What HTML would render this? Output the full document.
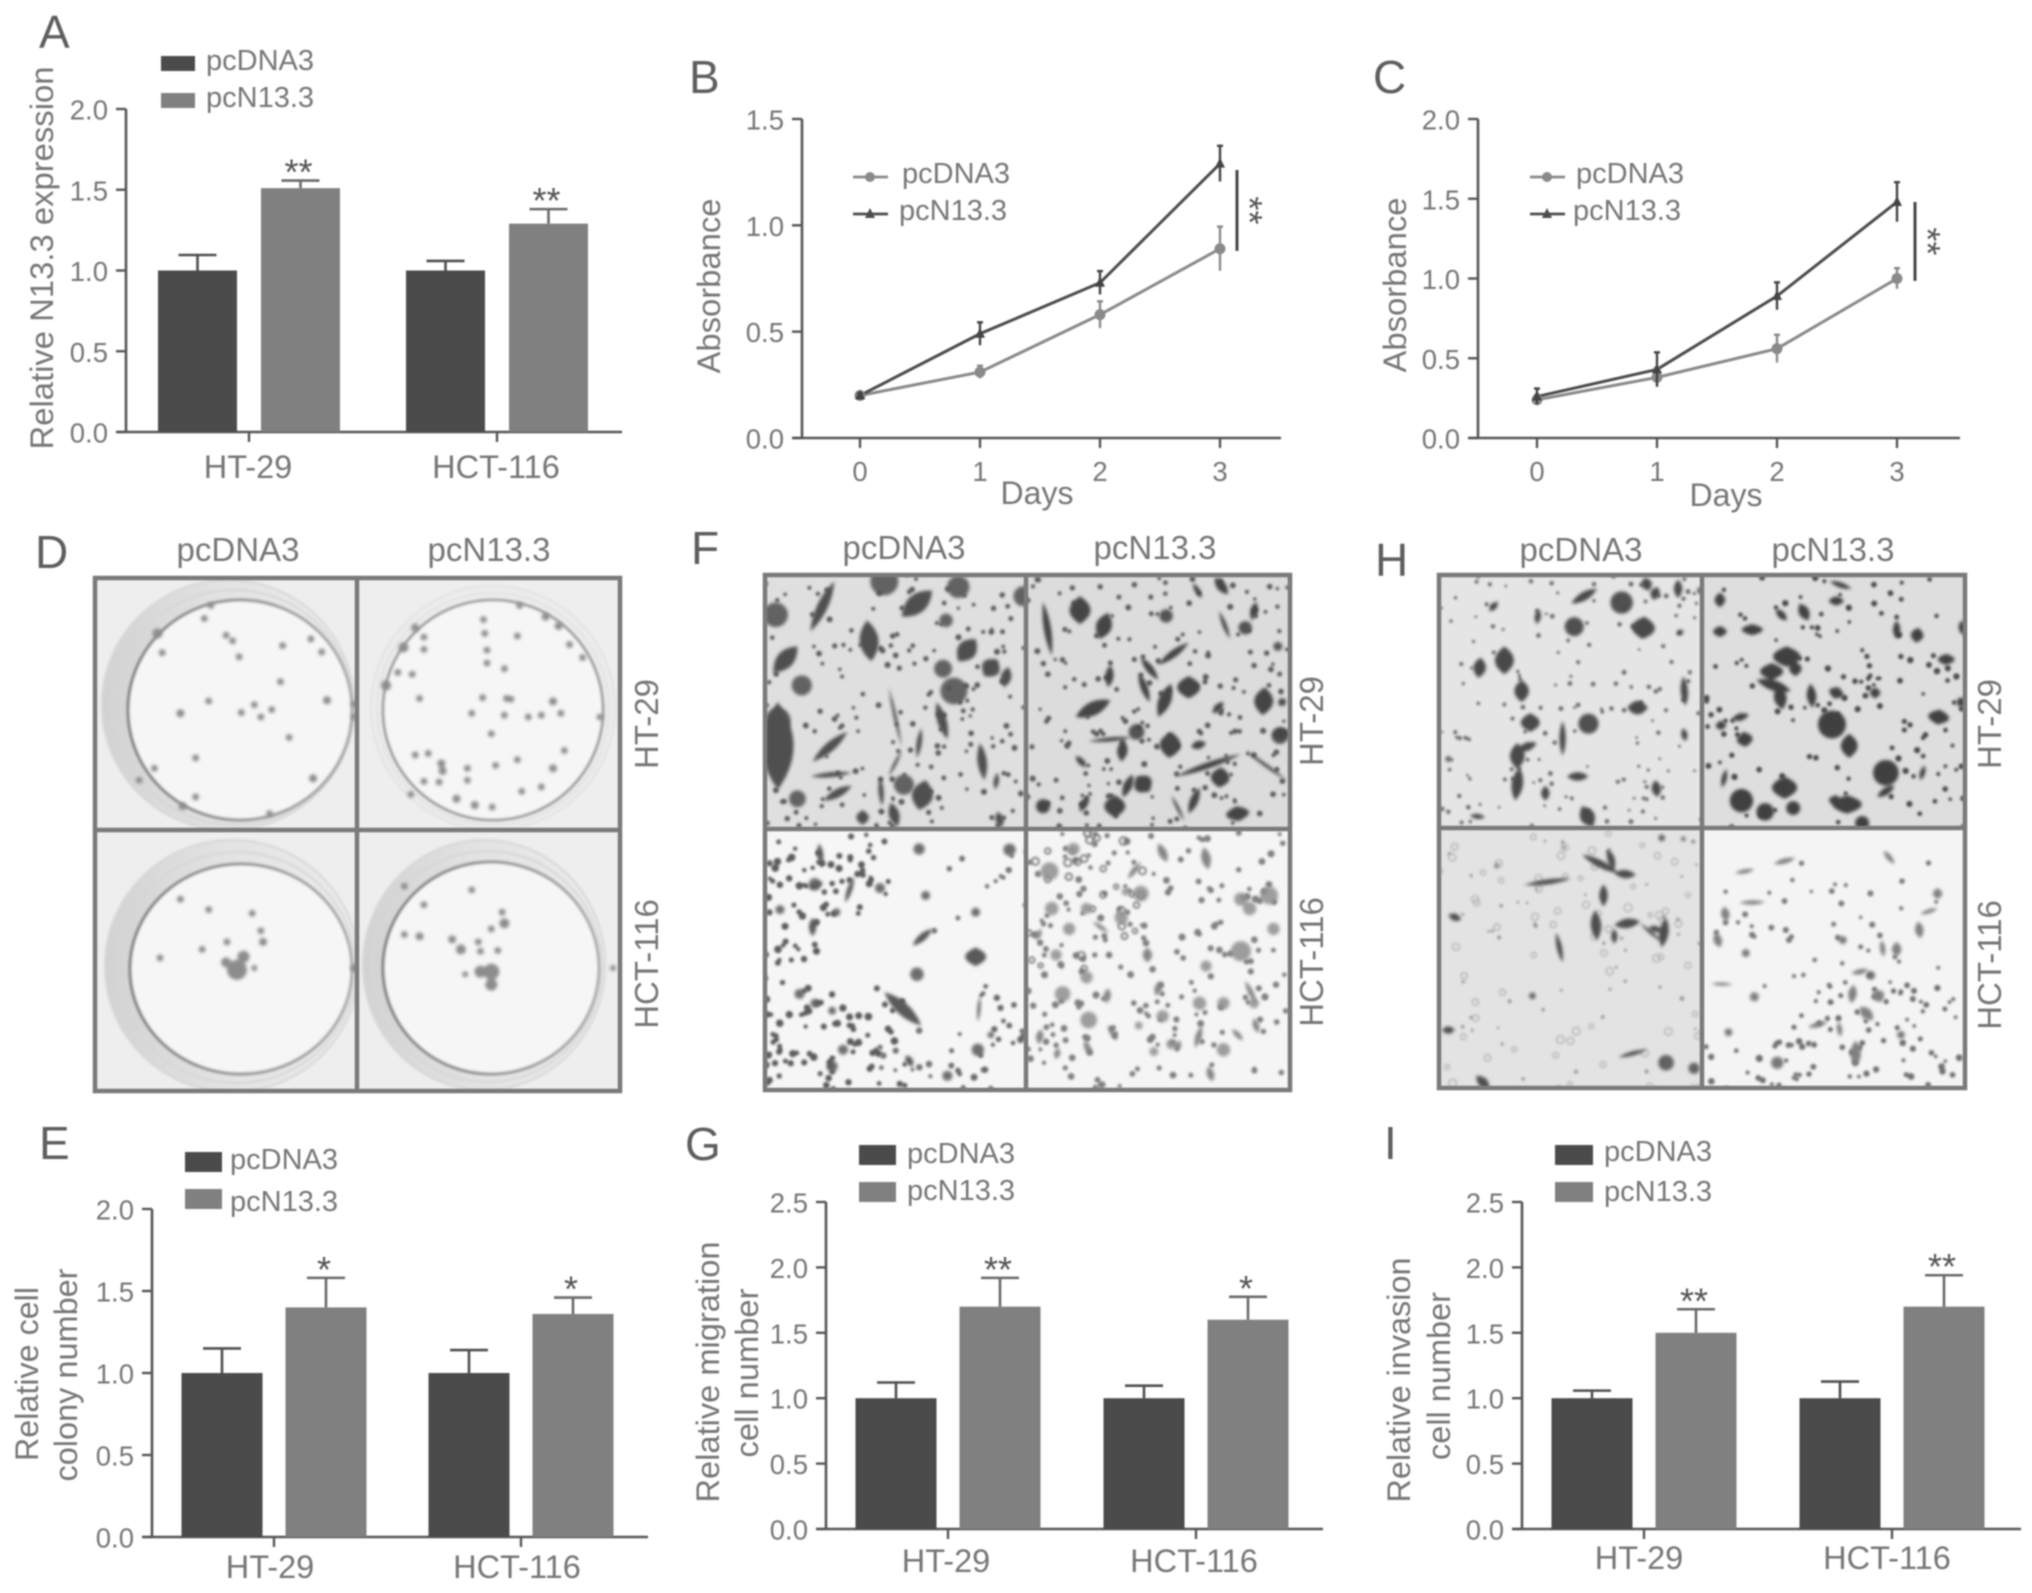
<!DOCTYPE html>
<html lang="en">
<head>
<meta charset="utf-8">
<title>N13.3 overexpression figure</title>
<style>
html,body{margin:0;padding:0;background:#fff;}
svg#fig{display:block;filter:blur(.8px);}
text{font-family:"Liberation Sans",sans-serif;fill:#767676;}
.letter{font-size:46px;fill:#5e5e5e;}
.imglabel{font-size:33px;text-anchor:middle;}
.frame{fill:none;stroke:#7a7a7a;stroke-width:4.5;}
</style>
</head>
<body>
<svg id="fig" xmlns="http://www.w3.org/2000/svg" width="2032" height="1593" viewBox="0 0 2032 1593">
<defs>
<filter id="soft" x="-5%" y="-5%" width="110%" height="110%"><feGaussianBlur stdDeviation="1.5"/></filter>
<filter id="soft2" x="-5%" y="-5%" width="110%" height="110%"><feGaussianBlur stdDeviation="1"/></filter>
<linearGradient id="rimGrad" x1="0" y1="0" x2="1" y2="0"><stop offset="0" stop-color="#d2d2d2"/><stop offset="0.45" stop-color="#e2e2e2"/><stop offset="1" stop-color="#ececec"/></linearGradient>
<linearGradient id="ringGrad" x1="0" y1="0" x2="1" y2="0"><stop offset="0" stop-color="#7c7c7c"/><stop offset="1" stop-color="#a8a8a8"/></linearGradient>
</defs>
<rect width="2032" height="1593" fill="#fff"/>

<text class="letter" x="39" y="48">A</text>
<text class="letter" x="689" y="93">B</text>
<text class="letter" x="1373" y="93">C</text>
<text class="letter" x="35" y="568">D</text>
<text class="letter" x="39" y="1159">E</text>
<text class="letter" x="691" y="564">F</text>
<text class="letter" x="685" y="1160">G</text>
<text class="letter" x="1375" y="576">H</text>
<text class="letter" x="1384" y="1159">I</text>

<g id="chartA"></g>
<g id="chartB"></g>
<g id="chartC"></g>
<g id="chartE"></g>
<g id="chartG"></g>
<g id="chartI"></g>

<!-- Panel D -->
<g id="d1"></g>
<g id="d2"></g>
<g id="d3"></g>
<g id="d4"></g>
<g>
<rect class="frame" x="95" y="578" width="525" height="513"/>
<line class="frame" x1="357" y1="578" x2="357" y2="1091"/>
<line class="frame" x1="95" y1="830" x2="620" y2="830"/>
</g>
<text class="imglabel" x="238" y="561">pcDNA3</text>
<text class="imglabel" x="489" y="561">pcN13.3</text>
<text class="imglabel" transform="translate(658 724) rotate(-90)">HT-29</text>
<text class="imglabel" transform="translate(658 964) rotate(-90)">HCT-116</text>

<!-- Panel F -->
<g id="f1"></g>
<g id="f2"></g>
<g id="f3"></g>
<g id="f4"></g>
<g>
<rect class="frame" x="765" y="575" width="525" height="515"/>
<line class="frame" x1="1026" y1="575" x2="1026" y2="1090"/>
<line class="frame" x1="765" y1="829" x2="1290" y2="829"/>
</g>
<text class="imglabel" x="904" y="559">pcDNA3</text>
<text class="imglabel" x="1155" y="559">pcN13.3</text>
<text class="imglabel" transform="translate(1323 721) rotate(-90)">HT-29</text>
<text class="imglabel" transform="translate(1323 962) rotate(-90)">HCT-116</text>

<!-- Panel H -->
<g id="h1"></g>
<g id="h2"></g>
<g id="h3"></g>
<g id="h4"></g>
<g>
<rect class="frame" x="1439" y="575" width="526" height="513"/>
<line class="frame" x1="1702" y1="575" x2="1702" y2="1088"/>
<line class="frame" x1="1439" y1="828" x2="1965" y2="828"/>
</g>
<text class="imglabel" x="1581" y="561">pcDNA3</text>
<text class="imglabel" x="1833" y="561">pcN13.3</text>
<text class="imglabel" transform="translate(2001 724) rotate(-90)">HT-29</text>
<text class="imglabel" transform="translate(2001 965) rotate(-90)">HCT-116</text>
</svg>

<script>
/* ---------- chart data ---------- */
const barCategories = ['HT-29', 'HCT-116'];
const seriesNames = ['pcDNA3', 'pcN13.3'];
const dayLabels = ['0', '1', '2', '3'];
const ticks20 = ['0.0', '0.5', '1.0', '1.5', '2.0'];
const ticks25 = ['0.0', '0.5', '1.0', '1.5', '2.0', '2.5'];
const ticks15 = ['0.0', '0.5', '1.0', '1.5'];

const aControl = [1.0, 1.0];
const aTreated = [1.51, 1.29];
const aControlErr = [0.096, 0.059];
const aTreatedErr = [0.047, 0.09];
const aStars = ['**', '**'];

const eControl = [1.0, 1.0];
const eTreated = [1.4, 1.36];
const eControlErr = [0.15, 0.14];
const eTreatedErr = [0.18, 0.1];
const eStars = ['*', '*'];

const gControl = [1.0, 1.0];
const gTreated = [1.7, 1.6];
const gControlErr = [0.12, 0.096];
const gTreatedErr = [0.22, 0.175];
const gStars = ['**', '*'];

const iControl = [1.0, 1.0];
const iTreated = [1.5, 1.7];
const iControlErr = [0.058, 0.127];
const iTreatedErr = [0.18, 0.24];
const iStars = ['**', '**'];

const bControl = [0.2, 0.31, 0.58, 0.89];
const bTreated = [0.2, 0.49, 0.73, 1.29];
const bControlErr = [0.01, 0.03, 0.063, 0.104];
const bTreatedErr = [0.01, 0.054, 0.055, 0.084];
const bSigSpan = [0.88, 1.26];

const cControl = [0.24, 0.38, 0.56, 1.0];
const cTreated = [0.26, 0.43, 0.89, 1.48];
const cControlErr = [0.03, 0.06, 0.087, 0.065];
const cTreatedErr = [0.05, 0.107, 0.086, 0.124];
const cSigSpan = [0.985, 1.48];

const NS = 'http://www.w3.org/2000/svg';
const DARK = '#4b4b4b', LIGHT = '#808080', AXIS = '#565656';

function mk(tag, attrs, parent) {
  const n = document.createElementNS(NS, tag);
  for (const k in attrs) n.setAttribute(k, attrs[k]);
  parent.appendChild(n);
  return n;
}
function txt(str, attrs, parent) {
  const n = mk('text', attrs, parent);
  n.textContent = str;
  return n;
}
function axes(g, o, yLabels, yMax) {
  const y = v => o.y0 - (v / yMax) * (o.y0 - o.yTop);
  const yAxis = mk('line', {x1:o.axisX, x2:o.axisX, y1:o.yTop, y2:o.y0, stroke:AXIS, 'stroke-width':2.6}, g);
  
  
  const xAxis = mk('line', {x1:o.axisX-10, x2:o.axisEnd, y1:o.y0, y2:o.y0, stroke:AXIS, 'stroke-width':2.6}, g);
  
  
  yLabels.forEach(label => {
    const v = parseFloat(label);
    const tick = mk('line', {x1:o.axisX-10, x2:o.axisX, y1:y(v), y2:y(v), stroke:AXIS, 'stroke-width':2.4}, g);
    
    
    const t = txt(label, {x:o.axisX-18, y:y(v)+10.5, 'text-anchor':'end', 'font-size':27.5}, g);
    
    
  });
  return y;
}
function yTitle(g, str, x, cy, len) {
  const t = txt(str, {transform:`translate(${x} ${cy}) rotate(-90)`, 'text-anchor':'middle', 'font-size':32, textLength:len, lengthAdjust:'spacingAndGlyphs'}, g);
  
  
}
function errBar(g, x, yLow, yHigh, capHalf, color, w) {
  const stem = mk('line', {x1:x, x2:x, y1:yLow, y2:yHigh, stroke:color, 'stroke-width':w}, g);
  
  
  const cap = mk('line', {x1:x-capHalf, x2:x+capHalf, y1:yHigh, y2:yHigh, stroke:color, 'stroke-width':w}, g);
  
  
}
function barChart(id, o, yLabels, yMax, control, treated, controlErr, treatedErr, stars) {
  const g = document.getElementById(id);
  const y = axes(g, o, yLabels, yMax);
  barCategories.forEach((cat, i) => {
    const c = o.groupStart + i * o.groupStep;
    const tick = mk('line', {x1:c, x2:c, y1:o.y0, y2:o.y0+10, stroke:AXIS, 'stroke-width':2.4}, g);
    
    
    const lab = txt(cat, {x:c+o.labelDx, y:o.labelY, 'text-anchor':'middle', 'font-size':32.5}, g);
    
    

    const x1 = c - o.barOff, x2 = c + o.barOff;
    errBar(g, x1, y(control[i]), y(control[i] + controlErr[i]), 19, '#4f4f4f', 2.6);
    errBar(g, x2, y(treated[i]), y(treated[i] + treatedErr[i]), 19, '#6a6a6a', 2.6);
    const barA = mk('rect', {x:x1-o.barW/2, y:y(control[i]), width:o.barW, height:o.y0-y(control[i]), fill:DARK}, g);
    
    
    const barB = mk('rect', {x:x2-o.barW/2, y:y(treated[i]), width:o.barW, height:o.y0-y(treated[i]), fill:LIGHT}, g);
    
    
    const star = txt(stars[i], {x:x2-2, y:y(treated[i]+treatedErr[i])-15+19, 'text-anchor':'middle', 'font-size':36, style:'fill:#555'}, g);
    
    
  });
  seriesNames.forEach((s, i) => {
    const sw = mk('rect', {x:o.legX, y:o.legY[i], width:o.legW, height:o.legH, fill:i ? LIGHT : DARK}, g);
    
    
    const t = txt(s, {x:o.legTx, y:o.legBase[i], 'font-size':29}, g);
    
    
  });
}
function lineChart(id, o, yLabels, yMax, control, treated, controlErr, treatedErr, sigSpan) {
  const g = document.getElementById(id);
  const y = axes(g, o, yLabels, yMax);
  const x = d => o.dayStart + d * o.dayStep;
  dayLabels.forEach((d, i) => {
    const tick = mk('line', {x1:x(i), x2:x(i), y1:o.y0, y2:o.y0+10, stroke:AXIS, 'stroke-width':2.4}, g);
    
    
    const lab = txt(d, {x:x(i), y:o.y0+43, 'text-anchor':'middle', 'font-size':27.5}, g);
    
    
  });
  const days = txt('Days', {x:o.daysX, y:o.daysY, 'text-anchor':'middle', 'font-size':32}, g);
  
  

  const pts = vals => vals.map((v, i) => x(i) + ',' + y(v)).join(' ');
  const lineA = mk('polyline', {points:pts(control), fill:'none', stroke:'#8a8a8a', 'stroke-width':3}, g);
  
  
  const lineB = mk('polyline', {points:pts(treated), fill:'none', stroke:'#4c4c4c', 'stroke-width':3}, g);
  
  

  control.forEach((v, i) => {
    errBar(g, x(i), y(v - controlErr[i]), y(v + controlErr[i]), 3, '#8a8a8a', 2.4);
    const dot = mk('circle', {cx:x(i), cy:y(v), r:5.5, fill:'#8a8a8a'}, g);
    
    
  });
  treated.forEach((v, i) => {
    errBar(g, x(i), y(v - treatedErr[i]), y(v + treatedErr[i]), 3, '#444', 2.4);
    const cx = x(i), cy = y(v);
    const tri = mk('polygon', {points:`${cx-5},${cy+4} ${cx+5},${cy+4} ${cx},${cy-6}`, fill:'#444'}, g);
    
    
  });

  const sig = mk('line', {x1:o.sigX, x2:o.sigX, y1:y(sigSpan[0]), y2:y(sigSpan[1]), stroke:'#444', 'stroke-width':3}, g);
  
  
  const midY = (y(sigSpan[0]) + y(sigSpan[1])) / 2;
  const st = txt('**', {transform:`translate(${o.sigX+0} ${midY}) rotate(90)`, 'text-anchor':'middle', 'font-size':36, style:'fill:#555'}, g);
  
  

  seriesNames.forEach((s, i) => {
    const ly = o.legY[i];
    const ln = mk('line', {x1:o.legX, x2:o.legX+35, y1:ly, y2:ly, stroke:i ? '#4c4c4c' : '#8a8a8a', 'stroke-width':2.8}, g);
    
    
    const cx = o.legX + 17;
    const mark = i
      ? mk('polygon', {points:`${cx-5},${ly+4} ${cx+5},${ly+4} ${cx},${ly-6}`, fill:'#4c4c4c'}, g)
      : mk('circle', {cx:cx, cy:ly, r:5, fill:'#8a8a8a'}, g);
    
    
    const t = txt(s, {x:o.legTx[i], y:ly+5+1, 'font-size':29}, g);
    
    
  });
}

/* ---------- draw charts ---------- */
barChart('chartA', {axisX:126, axisEnd:622, y0:432, yTop:109, groupStart:249, groupStep:248, barOff:51.5, barW:79, labelDx:-1, labelY:478,
  legX:161, legY:[56,93], legW:34, legH:15, legTx:206, legBase:[70,107]}, ticks20, 2, aControl, aTreated, aControlErr, aTreatedErr, aStars);
yTitle(document.getElementById('chartA'), 'Relative N13.3 expression', 53, 258, 383);

lineChart('chartB', {axisX:802, axisEnd:1281, y0:438, yTop:119, dayStart:860, dayStep:120, daysX:1037, daysY:504, sigX:1237,
  legX:853, legY:[177,214], legTx:[902,899]}, ticks15, 1.5, bControl, bTreated, bControlErr, bTreatedErr, bSigSpan);
yTitle(document.getElementById('chartB'), 'Absorbance', 720, 286, 175);

lineChart('chartC', {axisX:1478, axisEnd:1960, y0:438, yTop:119, dayStart:1537, dayStep:120, daysX:1726, daysY:506, sigX:1915,
  legX:1530, legY:[177,214], legTx:[1576,1573]}, ticks20, 2, cControl, cTreated, cControlErr, cTreatedErr, cSigSpan);
yTitle(document.getElementById('chartC'), 'Absorbance', 1406, 285, 175);

barChart('chartE', {axisX:152, axisEnd:648, y0:1537, yTop:1209, groupStart:274, groupStep:247, barOff:52, barW:81, labelDx:-4, labelY:1578,
  legX:185, legY:[1152,1189], legW:37, legH:20, legTx:230, legBase:[1169,1211]}, ticks20, 2, eControl, eTreated, eControlErr, eTreatedErr, eStars);
yTitle(document.getElementById('chartE'), 'Relative cell', 38, 1374, 174);
yTitle(document.getElementById('chartE'), 'colony number', 77, 1375, 213);

barChart('chartG', {axisX:826, axisEnd:1323, y0:1529, yTop:1202, groupStart:948, groupStep:248, barOff:52, barW:81, labelDx:-2, labelY:1572,
  legX:859, legY:[1145,1182], legW:37, legH:20, legTx:907, legBase:[1163,1200]}, ticks25, 2.5, gControl, gTreated, gControlErr, gTreatedErr, gStars);
yTitle(document.getElementById('chartG'), 'Relative migration', 719, 1372, 261);
yTitle(document.getElementById('chartG'), 'cell number', 758, 1373, 169);

barChart('chartI', {axisX:1522, axisEnd:2021, y0:1529, yTop:1202, groupStart:1644, groupStep:248, barOff:52, barW:81, labelDx:-5, labelY:1569,
  legX:1555, legY:[1145,1182], legW:38, legH:20, legTx:1604, legBase:[1161,1201]}, ticks25, 2.5, iControl, iTreated, iControlErr, iTreatedErr, iStars);
yTitle(document.getElementById('chartI'), 'Relative invasion', 1410, 1380, 245);
yTitle(document.getElementById('chartI'), 'cell number', 1450, 1376, 168);

/* ---------- photographic panels (approximated shapes, not chart data) ---------- */
const defs = document.querySelector('#fig defs');
function cell(id, x, y, w, h, bg) {
  const g = document.getElementById(id);
  const cp = mk('clipPath', {id:'clip-' + id}, defs);
  mk('rect', {x:x, y:y, width:w, height:h}, cp);
  g.setAttribute('clip-path', `url(#clip-${id})`);
  mk('rect', {x:x, y:y, width:w, height:h, fill:bg}, g);
  return g;
}
const zx = (base, v) => base + v / (base === 1360 ? 2.32 : 2.3);
const zy = v => 520 + v / 2.69;
function spindles(g, base, list, fill, op) {
  const s = mk('g', {filter:'url(#soft)', fill:fill, opacity:op}, g);
  list.forEach(a => {
    const x1 = zx(base, a[0]), y1 = zy(a[1]), x2 = zx(base, a[2]), y2 = zy(a[3]);
    const w = a[4] * 1.05;
    const dx = x2 - x1, dy = y2 - y1, L = Math.hypot(dx, dy) || 1;
    if (L < 5) { mk('circle', {cx:x1, cy:y1, r:w/1.8}, s); return; }
    const nx = -dy / L * w, ny = dx / L * w;
    const mx = (x1 + x2) / 2, my = (y1 + y2) / 2;
    mk('path', {d:`M${x1} ${y1}Q${mx+nx} ${my+ny} ${x2} ${y2}Q${mx-nx} ${my-ny} ${x1} ${y1}Z`}, s);
  });
}
function bodies(g, base, list, fill, op) {
  const s = mk('g', {filter:'url(#soft)', fill:fill, opacity:op}, g);
  list.forEach(a => mk('circle', {cx:zx(base, a[0]), cy:zy(a[1]), r:a[2] * 0.28}, s));
}
function speck(g, x, y, w, h, n, r, fill, seed, ring) {
  let st = seed;
  const rnd = () => { st = (st * 16807) % 2147483647; return st / 2147483647; };
  const s = mk('g', {filter:'url(#soft2)'}, g);
  for (let i = 0; i < n; i++) {
    const a = {cx:x + rnd() * w, cy:y + rnd() * h, r:r * (0.7 + rnd() * 0.6)};
    if (ring) { a.fill = 'none'; a.stroke = fill; a['stroke-width'] = 1.8; } else { a.fill = fill; }
    mk('circle', a, s);
  }
}
function dish(g, outer, inner, rimFill, rimStroke, innerStroke, sw) {
  mk('ellipse', {cx:outer[0], cy:outer[1], rx:outer[2], ry:outer[3], fill:rimFill, stroke:rimStroke, 'stroke-width':2, filter:'url(#soft2)'}, g);
  mk('ellipse', {cx:(outer[0]+inner[0])/2, cy:(outer[1]+inner[1])/2, rx:(outer[2]+inner[2])/2, ry:(outer[3]+inner[3])/2, fill:'none', stroke:rimStroke, 'stroke-width':2, filter:'url(#soft2)'}, g);
  mk('ellipse', {cx:inner[0], cy:inner[1], rx:inner[2], ry:inner[3], fill:'#f6f6f6', stroke:innerStroke, 'stroke-width':sw, filter:'url(#soft2)'}, g);
}
function colonies(g, base, list) {
  const s = mk('g', {filter:'url(#soft)', fill:'#8c8c8c'}, g);
  list.forEach(a => mk('circle', {cx:zx(base, a[0]), cy:zy(a[1]), r:a[2] || 3.4}, s));
}

/* Panel D */
const d1 = cell('d1', 95, 578, 262, 252, '#eeeeee');
dish(d1, [228,705,126,125], [240,710,112,110], 'url(#rimGrad)', '#d6d6d6', 'url(#ringGrad)', 3);
colonies(d1, 0, [[362,305,5],[373,357],[520,310],[535,325],[550,368],[650,338],[715,320],[740,355],[645,435],[480,487],[415,520,4],[555,518],[585,497],[600,530],[625,510],[752,485,4],[815,495],[815,530],[665,585],[450,640],[355,668],[320,700],[720,695,4],[450,745],[420,770,4],[485,230],[470,265],[620,790]]);
const d2 = cell('d2', 357, 578, 263, 252, '#eeeeee');
dish(d2, [493,708,122,122], [493,710,110,110], '#ececec', '#e2e2e2', '#949494', 2.6);
colonies(d2, 0, [[1112,268],[1115,305],[1190,312],[1195,230],[1255,260,4],[1285,285,4],[1310,335],[1340,370],[955,290,4],[975,315],[928,343,5],[975,348],[915,410],[948,415],[888,445,5],[965,480],[1110,478],[1165,480],[1175,482],[1272,488,4],[1290,520],[1380,530],[1085,520],[1160,525],[1215,530],[1245,525],[1130,575],[1298,620],[985,628],[955,632],[1015,655,4],[1018,675,4],[1075,668],[1140,660],[1190,645],[1272,668,4],[975,703],[1010,705],[1075,700],[1050,750,4],[1092,767,4],[1132,772],[1200,730],[1245,718],[945,738],[1120,350],[1120,385],[1160,400]]);
const d3 = cell('d3', 95, 830, 262, 261, '#eeeeee');
dish(d3, [232,966,127,126], [241,969,111,105], 'url(#rimGrad)', '#d6d6d6', 'url(#ringGrad)', 3);
colonies(d3, 0, [[480,1048],[580,1058],[415,1020],[368,1178],[605,1135,4],[600,1105],[522,1135],[465,1155],[545,1210,10],[560,1175,6],[520,1190,5],[585,1205,3],[815,1205,4]]);
const d4 = cell('d4', 357, 830, 263, 261, '#eeeeee');
dish(d4, [484,965,121,125], [491,968,108,106], 'url(#rimGrad)', '#d6d6d6', 'url(#ringGrad)', 3);
colonies(d4, 0, [[1085,995],[1155,1055],[1160,1085,5],[1130,1100],[975,1035],[930,985],[965,1120,4],[930,1115],[1040,1128,4],[1060,1155,5],[1100,1135],[1105,1160],[1145,1158],[1130,1215,8],[1105,1215,6],[1130,1250,6],[1070,1222,3],[1410,1205,3]]);

/* Panel F */
const f1 = cell('f1', 765, 575, 261, 254, '#dfdfdf');
speck(f1, 765, 575, 261, 254, 170, 2.4, '#5c5c5c', 1201);
bodies(f1, 680, [[220,255,44],[640,180,40],[470,165,50],[790,205,36],[612,270,24],[605,400,32],[630,460,48],[280,445,36],[515,712,36],[225,540,46],[270,750,30]], '#555', .9);
spindles(f1, 680, [[225,490,225,725,30],[355,165,300,300,10],[580,190,510,260,18],[270,340,215,410,16],[430,270,440,380,18],[680,320,640,380,18],[730,375,700,420,18],[755,395,745,450,10],[590,490,615,590,9],[385,570,305,650,9],[300,690,395,680,5],[690,600,700,700,9],[730,680,725,725,5],[395,715,330,755,8],[460,690,465,770,5],[555,560,545,640,5],[480,450,510,610,3],[565,700,550,780,20],[485,760,500,825,10],[730,785,740,825,8],[420,780,420,820,12],[510,620,480,690,3]], '#4f4f4f', 1);

const f2 = cell('f2', 1026, 575, 264, 254, '#dcdcdc');
speck(f2, 1026, 575, 264, 254, 190, 2.4, '#5c5c5c', 3391);
bodies(f2, 680, [[1118,258,24],[1300,290,24],[1050,570,28],[1375,340,16],[1380,580,30]], '#454545', .9);
spindles(f2, 680, [[1170,420,1170,480,22],[835,220,855,365,7],[920,205,920,280,20],[985,250,965,320,15],[1170,330,1100,390,7],[1060,370,1100,430,7],[990,390,985,450,8],[1055,410,1080,490,7],[1130,440,1100,530,12],[990,485,910,530,13],[1240,245,1265,320,4],[1180,170,1200,210,5],[1230,155,1260,200,9],[1325,220,1315,270,7],[1345,450,1340,525,18],[1250,490,1225,520,7],[1380,480,1390,500,8],[940,595,1040,585,4],[1020,590,1015,650,10],[1130,570,1125,640,20],[1210,600,1175,610,8],[1140,690,1290,630,6],[1300,620,1395,700,3],[1245,665,1240,720,18],[1195,720,1170,790,8],[1130,740,1160,810,3],[1000,740,1000,800,20],[940,740,920,785,7],[1050,690,1080,730,18],[1020,710,1040,720,22],[1280,770,1285,810,22],[835,770,840,780,12],[910,635,935,665,6],[1380,560,1385,590,15]], '#454545', 1);

const f3 = cell('f3', 765, 829, 261, 261, '#f6f6f6');
speck(f3, 765, 832, 125, 85, 55, 3, '#5c5c5c', 4523);
speck(f3, 765, 985, 140, 105, 75, 3, '#5c5c5c', 7127);
speck(f3, 765, 920, 60, 70, 18, 3, '#5c5c5c', 911);
speck(f3, 950, 980, 76, 110, 26, 2.8, '#6a6a6a', 2203);
speck(f3, 930, 850, 96, 90, 12, 2.6, '#777', 5701);
speck(f3, 880, 1030, 70, 50, 10, 2.6, '#777', 6101);
bodies(f3, 680, [[758,887,22],[550,885,20],[565,1010,16],[680,1055,16],[545,1222,24],[360,1055,14],[275,1275,18],[310,1300,16],[350,1320,14],[375,1425,18],[350,1470,20],[685,1425,22],[615,1495,18],[715,1385,12],[460,990,18],[310,980,22],[230,1048,16]], '#5f5f5f', .9);
spindles(f3, 680, [[320,870,325,930,6],[400,960,380,1030,5],[310,975,315,990,14],[305,1070,305,1120,7],[580,1100,535,1145,7],[680,1150,680,1200,20],[470,1270,555,1360,12],[690,1280,685,1350,3],[520,1440,535,1470,7]], '#5a5a5a', 1);

const f4 = cell('f4', 1026, 829, 264, 261, '#f5f5f5');
speck(f4, 1028, 832, 260, 258, 190, 2.8, '#808080', 8807);
speck(f4, 1028, 832, 120, 140, 30, 3, '#777', 1009, true);
bodies(f4, 680, [[850,945,32],[905,885,22],[1060,1005,28],[1025,1000,14],[855,1045,24],[935,1045,20],[1015,1070,24],[895,1100,22],[1355,1010,32],[1310,1045,24],[1290,1160,36],[1365,1100,22],[865,1170,20],[935,1230,22],[880,1275,28],[1195,1300,24],[1250,1300,22],[1110,1335,22],[940,1345,30],[1055,1360,14],[1250,1425,24],[1090,1430,16],[1210,1200,20],[1290,1020,24],[1130,1410,18],[1320,1300,18]], '#8e8e8e', .85);
spindles(f4, 680, [[1100,870,1120,920,8],[1205,880,1215,940,9],[1060,920,1030,965,5],[830,1100,820,1130,5],[950,1080,985,1110,4],[1075,1150,1075,1190,9],[1300,1240,1325,1300,5],[870,1420,865,1450,6],[985,1360,1005,1400,5],[1200,1360,1185,1420,6],[1270,1370,1295,1400,5],[1150,1400,1140,1430,6],[930,1400,945,1440,6],[1105,1240,1095,1280,7],[985,1260,980,1300,7],[1215,1470,1225,1510,7],[1320,1340,1330,1380,6],[830,1370,825,1410,7]], '#808080', .95);

/* Panel H */
const h1 = cell('h1', 1439, 575, 263, 253, '#e5e5e5');
speck(h1, 1439, 575, 263, 253, 150, 1.9, '#6c6c6c', 1301);
bodies(h1, 1360, [[607,222,40],[497,287,34],[530,548,36],[205,643,10],[790,190,12]], '#4a4a4a', .95);
spindles(h1, 1360, [[490,225,550,185,8],[415,240,410,280,6],[660,155,670,190,10],[690,180,680,215,9],[738,160,738,210,8],[660,260,655,320,22],[740,295,745,310,7],[280,370,275,425,12],[335,340,335,415,18],[375,430,375,490,14],[395,520,395,570,18],[470,540,470,635,6],[750,420,755,500,7],[620,505,668,505,13],[365,600,365,670,14],[410,600,365,620,8],[370,665,360,755,11],[430,715,430,755,8],[480,690,530,690,8],[685,700,690,745,9],[515,770,540,825,14],[255,795,290,800,5],[750,560,755,595,6],[320,220,300,245,6]], '#4a4a4a', 1);

const h2 = cell('h2', 1702, 575, 263, 253, '#dedede');
speck(h2, 1702, 575, 263, 253, 130, 2.5, '#484848', 2711);
spindles(h2, 1360, [[835,195,835,235,10],[1105,205,1105,230,14],[1090,165,1140,185,5],[965,240,990,270,7],[1020,225,1040,270,10],[1245,270,1245,320,7],[1295,290,1290,330,12],[1395,270,1400,310,7],[835,285,835,315,13],[910,280,910,310,20],[990,340,990,395,26],[955,385,955,430,22],[1010,380,1010,420,12],[920,430,1000,460,10],[970,445,980,510,12],[1045,440,1050,505,9],[1110,450,1100,480,14],[1195,450,1195,480,10],[1360,360,1360,390,16],[880,520,885,540,16],[835,540,840,565,10],[890,570,895,610,15],[1095,550,1095,555,24],[1135,575,1135,640,16],[1345,510,1340,550,20],[1220,680,1225,680,22],[1240,715,1200,745,7],[985,690,985,750,24],[885,755,890,760,20],[940,785,945,790,15],[1005,775,1005,785,12],[1130,740,1130,790,28],[1165,815,1165,820,12],[850,670,840,720,5],[1105,740,1100,770,12],[1310,660,1300,700,5],[1395,490,1395,495,8]], '#414141', 1);

const h3 = cell('h3', 1439, 828, 263, 260, '#e3e3e3');
speck(h3, 1439, 832, 263, 256, 70, 3, '#bcbcbc', 3907, true);
speck(h3, 1439, 832, 263, 256, 50, 1.8, '#989898', 5003);
bodies(h3, 1360, [[710,1460,28],[775,1475,20],[400,1280,12],[700,855,12],[750,858,8]], '#555', .9);
spindles(h3, 1360, [[515,900,600,950,7],[575,885,590,940,7],[590,950,640,955,8],[380,982,490,965,5],[565,980,565,1040,8],[545,1050,550,1130,10],[590,1090,650,1080,9],[590,1100,590,1140,6],[650,1085,700,1135,3],[710,1070,700,1150,9],[670,1095,700,1105,6],[205,1062,235,1075,7],[455,1110,470,1190,5],[600,1445,665,1425,4],[190,1372,220,1372,7],[270,1495,300,1530,9]], '#4e4e4e', 1);

const h4 = cell('h4', 1702, 828, 263, 260, '#f4f4f4');
speck(h4, 1785, 985, 175, 100, 70, 2.6, '#707070', 6203);
speck(h4, 1705, 1040, 110, 50, 16, 2.8, '#707070', 7411);
speck(h4, 1710, 860, 245, 130, 45, 2.4, '#7a7a7a', 8123);
bodies(h4, 1360, [[895,1165,14],[855,1378,14],[968,1460,22],[1185,1225,16],[1255,1385,14],[1120,1130,14]], '#6a6a6a', .9);
spindles(h4, 1360, [[1215,890,1240,925,5],[960,925,1010,910,5],[870,950,915,940,4],[880,1030,940,1028,4],[845,1040,850,1080,8],[825,1110,835,1150,8],[1295,1080,1300,1125,8],[1300,1060,1340,1045,4],[1245,1135,1245,1175,9],[1210,1130,1215,1175,5],[1340,990,1340,1020,9],[1140,1220,1180,1210,5],[1145,1250,1140,1300,8],[1190,1290,1215,1270,12],[1160,1310,1190,1345,10],[1040,1365,1085,1350,5],[910,1270,920,1295,9],[1110,1350,1115,1390,5],[1150,1400,1150,1470,10],[815,1247,865,1250,3]], '#808080', 1);
</script>
</body>
</html>
